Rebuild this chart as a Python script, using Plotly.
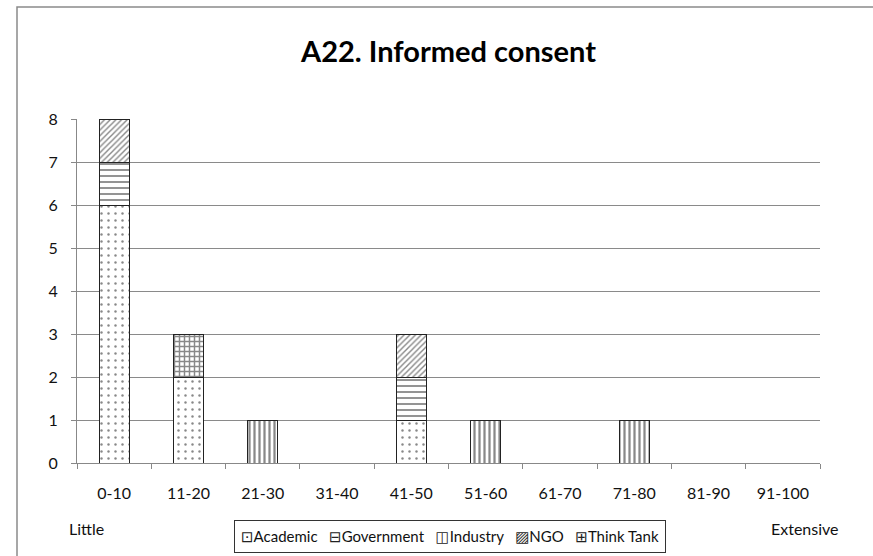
import plotly.graph_objects as go

categories = ["0-10", "11-20", "21-30", "31-40", "41-50", "51-60", "61-70", "71-80", "81-90", "91-100"]
academic   = [6, 2, 0, 0, 1, 0, 0, 0, 0, 0]
government = [1, 0, 0, 0, 1, 0, 0, 0, 0, 0]
industry   = [0, 0, 1, 0, 0, 1, 0, 1, 0, 0]
ngo        = [1, 0, 0, 0, 1, 0, 0, 0, 0, 0]
think_tank = [0, 1, 0, 0, 0, 0, 0, 0, 0, 0]
y_ticks = [0, 1, 2, 3, 4, 5, 6, 7, 8]

series = [
    ("Academic", academic, dict(shape=".", size=7, solidity=0.1)),
    ("Government", government, dict(shape="-", size=6, solidity=0.3)),
    ("Industry", industry, dict(shape="|", size=5, solidity=0.45)),
    ("NGO", ngo, dict(shape="/", size=4, solidity=0.35)),
    ("Think Tank", think_tank, dict(shape="+", size=5, solidity=0.5)),
]
legend_glyphs = ["⊡", "⊟", "◫", "▨", "⊞"]

FONT = "Lato, 'Open Sans', 'DejaVu Sans', sans-serif"

fig = go.Figure()
for name, vals, pat in series:
    fig.add_trace(go.Bar(
        x=categories, y=vals, name=name,
        marker=dict(color="white",
                    line=dict(color="#222", width=1),
                    pattern=dict(fgcolor="#111", bgcolor="white", fillmode="overlay", **pat)),
        showlegend=False, hoverinfo="skip",
    ))

L, R, T, B = 77, 53, 119, 93
W, H = 873, 556
pw, ph = W - L - R, H - T - B

def px_x(x):
    return (x - L) / pw

def px_y(y):
    return (H - B - y) / ph

legend_text = "   ".join(
    f"<span style='font-family:DejaVu Sans;color:#222'>{g}</span>{name}"
    for g, (name, _, _) in zip(legend_glyphs, series)
)

fig.update_layout(
    width=W, height=H,
    margin=dict(l=L, r=R, t=T, b=B, autoexpand=False),
    paper_bgcolor="white", plot_bgcolor="white",
    barmode="stack", bargap=0.6,
    font=dict(family=FONT, size=16, color="#111"),
    title=dict(text="<b>A22. Informed consent</b>", x=0.5, xref="paper", xanchor="center",
               y=1 - 52 / H, yref="container", yanchor="middle",
               font=dict(family=FONT, size=29, color="#000")),
    xaxis=dict(type="category", tickson="boundaries", ticks="outside", ticklen=5,
               tickcolor="#888", showline=True, linecolor="#888", linewidth=1,
               showgrid=False, ticklabelstandoff=16,
               tickfont=dict(family=FONT, size=16, color="#111")),
    yaxis=dict(range=[0, 8], tickvals=y_ticks, ticks="outside", ticklen=5, tickcolor="#888",
               showline=True, linecolor="#888", linewidth=1,
               showgrid=True, gridcolor="#8a8a8a", gridwidth=1, zeroline=False,
               ticklabelstandoff=10,
               tickfont=dict(family=FONT, size=16, color="#111")),
    shapes=[dict(type="rect", xref="paper", yref="paper",
                 x0=px_x(17), x1=px_x(880), y0=px_y(565), y1=px_y(7),
                 line=dict(color="#8a8a8a", width=1.5), fillcolor="rgba(0,0,0,0)", layer="below")],
    annotations=[
        dict(text="Little", xref="paper", yref="paper", x=px_x(67), y=px_y(528),
             xanchor="left", yanchor="middle", showarrow=False,
             font=dict(family=FONT, size=16, color="#111")),
        dict(text="Extensive", xref="paper", yref="paper", x=px_x(841), y=px_y(528),
             xanchor="right", yanchor="middle", showarrow=False,
             font=dict(family=FONT, size=16, color="#111")),
        dict(text=legend_text,
             xref="paper", yref="paper", x=px_x(450), y=px_y(536),
             xanchor="center", yanchor="middle", showarrow=False,
             bordercolor="#333", borderwidth=1, borderpad=6, bgcolor="white",
             font=dict(family=FONT, size=15, color="#111")),
    ],
)

fig.write_html("out.html", config={"displayModeBar": False})
with open("out.html", "r", encoding="utf-8") as f:
    html = f.read()
html = html.replace("<head>", "<head><style>html,body{margin:0;padding:0;}</style>", 1)
with open("out.html", "w", encoding="utf-8") as f:
    f.write(html)
